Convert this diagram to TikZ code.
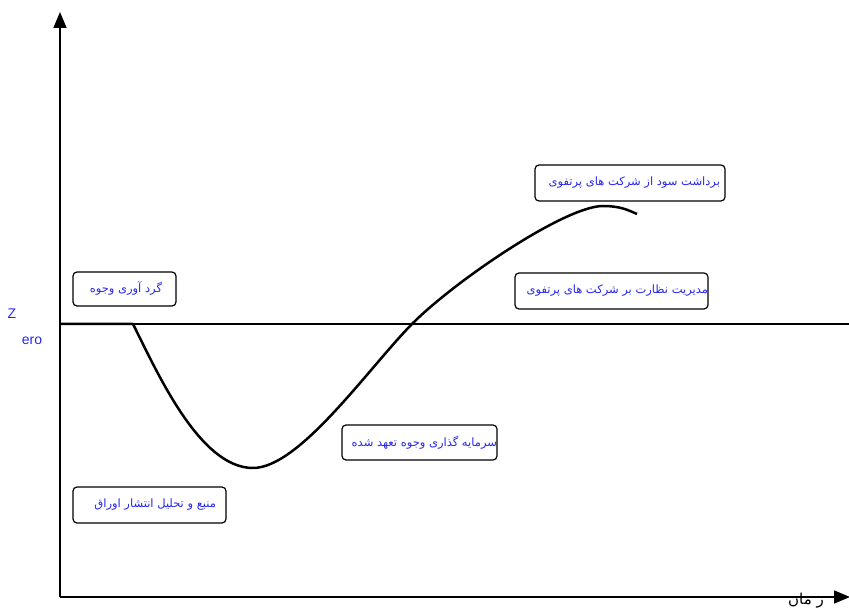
\documentclass[tikz,border=0pt]{standalone}
\usepackage{fontspec}
\newfontfamily\arabicfont[Script=Arabic]{DejaVu Sans}
\setmainfont{Liberation Serif}
\setsansfont{Liberation Sans}
\TeXXeTstate=1
\usetikzlibrary{arrows.meta}
\definecolor{txtblue}{RGB}{40,40,235}
\tikzset{
  lbl/.style={draw=black, line width=1.2pt, rounded corners=4pt, fill=white, inner sep=0pt, text=txtblue, font=\arabicfont\fontsize{11.5}{12}\selectfont},
  axis/.style={line width=1.6pt, -{Triangle[length=16pt,width=13pt]}},
}
\newcommand{\rbox}[2]{\hbox to #1pt{\hfil#2}}
\begin{document}
\begin{tikzpicture}[x=1pt,y=-1pt]
\useasboundingbox (0,0) rectangle (849,612);
\coordinate (O) at (60,597);
\coordinate (Ytop) at (60,12);
\coordinate (Xend) at (850,597);
\draw[axis] (O) -- (Ytop);
\draw[axis] (O) -- (Xend);
\coordinate (Z0) at (60,324);
\coordinate (Z1) at (849,324);
\draw[line width=1.2pt] (Z0) -- (Z1);
\draw[line width=2.5pt, line join=round, line cap=butt] (60,324) -- (133,324)
  .. controls (158,374) and (200,468) .. (253,468)
  .. controls (300,468) and (370,366) .. (413,323)
  .. controls (455,281) and (565,206) .. (603,206)
  .. controls (620,206) and (628,210) .. (637,214);
\node[lbl, minimum width=190pt, minimum height=36pt] (b1) at (630,183) {\rbox{190}{\beginR برداشت سود از شرکت های پرتفوی\endR\hspace*{5pt}}};
\node[lbl, minimum width=193pt, minimum height=36pt] (b2) at (611.5,291) {\rbox{193}{\beginR مدیریت نظارت بر شرکت های پرتفوی\endR}};
\node[lbl, minimum width=103pt, minimum height=34pt] (b3) at (124.5,289) {\rbox{103}{\beginR گرد آوری وجوه\endR\hspace*{14pt}}};
\node[lbl, minimum width=155pt, minimum height=35pt] (b4) at (419.5,442.5) {\rbox{155}{\beginR سرمایه گذاری وجوه تعهد شده\endR}};
\node[lbl, minimum width=153pt, minimum height=36pt] (b5) at (149.5,505) {\rbox{153}{\beginR منبع و تحلیل انتشار اوراق\endR\hspace*{10pt}}};
\node[text=txtblue, font=\sffamily\fontsize{14}{15}\selectfont, inner sep=0pt] (zz) at (12,314) {Z};
\node[text=txtblue, font=\sffamily\fontsize{14}{15}\selectfont, inner sep=0pt] (ze) at (32,341) {ero};
\node[font=\arabicfont\fontsize{15}{16}\selectfont, inner sep=0pt] (t) at (806,601) {\beginR ز مان\endR};
\end{tikzpicture}
\end{document}
